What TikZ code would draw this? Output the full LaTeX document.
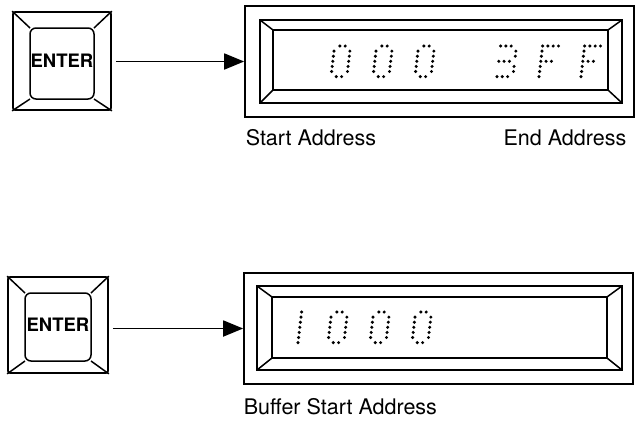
\documentclass[tikz,border=0pt]{standalone}
\usepackage{fontspec}
\setmainfont{TeX Gyre Heros}
\usetikzlibrary{arrows.meta}
\newcommand\dmzero{1/0,2/0,0/1,3/1,0/2,3/2,0/3,3/3,0/4,3/4,0/5,3/5,1/6,2/6}
\newcommand\dmthree{0/0,1/0,2/0,3/1,3/2,0/3,1/3,2/3,3/4,3/5,0/6,1/6,2/6}
\newcommand\dmeff{0/0,1/0,2/0,3/0,0/1,0/2,0/3,1/3,2/3,0/4,0/5,0/6}
\newcommand\dmone{0/0,0/1,0/2,0/3,0/4,0/5,0/6}
\newcommand\dmchar[3]{\foreach \c/\r in #3 {\fill ({#1+\c*5.3+(6-\r)*0.6},{#2+\r*5.1}) circle[radius=1.7pt];}}
\begin{document}
\begin{tikzpicture}[x=1pt,y=-1pt,line width=1.5pt,
  keybox/.style={draw,line width=1.7pt,rounded corners=2pt,minimum width=98pt,minimum height=98pt,inner sep=0pt,font=\bfseries\fontsize{18.5}{18.5}\selectfont},
  dispbox/.style={draw,line width=1.7pt,minimum width=389pt,minimum height=111pt,inner sep=0pt},
  lbl/.style={font=\fontsize{21.5}{24}\selectfont,inner sep=0pt},
  conn/.style={-{Triangle[length=20pt,width=16pt]},line width=1.8pt,shorten <=4pt}]
\useasboundingbox (0,0) rectangle (641,421);

% ---- row 1 ----
\node[keybox] (key1) at (62,61) {ENTER};
\draw[rounded corners=6pt] (30,28) rectangle (94,99);
\draw (key1.north west) -- (30,28);
\draw (key1.north east) -- (94,28);
\draw (key1.south west) -- (30,99);
\draw (key1.south east) -- (94,99);

\node[dispbox] (disp1) at (439.5,61.5) {};
\draw (260,20) rectangle (622,103);
\draw (273,30) rectangle (608,90);
\draw (260,20) -- (273,30);
\draw (622,20) -- (608,30);
\draw (260,103) -- (273,90);
\draw (622,103) -- (608,90);

\dmchar{331}{46}{\dmzero}
\dmchar{373}{46}{\dmzero}
\dmchar{415}{46}{\dmzero}
\dmchar{497}{46}{\dmthree}
\dmchar{539}{46}{\dmeff}
\dmchar{581}{46}{\dmeff}

\draw[conn] (key1.east |- disp1.west) -- (disp1.west);

\node[lbl,anchor=west] (lstart) at (245,137.5) {Start Address};
\node[lbl,anchor=east] (lend) at (627,137.5) {End Address};

% ---- row 2 ----
\node[keybox,minimum width=100pt,minimum height=96pt] (key2) at (58,325) {ENTER};
\draw[rounded corners=6pt] (25,293) rectangle (91,361);
\draw (key2.north west) -- (25,293);
\draw (key2.north east) -- (91,293);
\draw (key2.south west) -- (25,361);
\draw (key2.south east) -- (91,361);

\node[dispbox] (disp2) at (438.5,328.5) {};
\draw (257,286) rectangle (622,370);
\draw (272,297) rectangle (607,358);
\draw (257,286) -- (272,297);
\draw (622,286) -- (607,297);
\draw (257,370) -- (272,358);
\draw (622,370) -- (607,358);

\dmchar{298}{312}{\dmone}
\dmchar{328}{312}{\dmzero}
\dmchar{370}{312}{\dmzero}
\dmchar{412}{312}{\dmzero}

\draw[conn] (key2.east |- disp2.west) -- (disp2.west);

\node[lbl,anchor=west] (lbuf) at (243,406.5) {Buffer Start Address};
\end{tikzpicture}
\end{document}
